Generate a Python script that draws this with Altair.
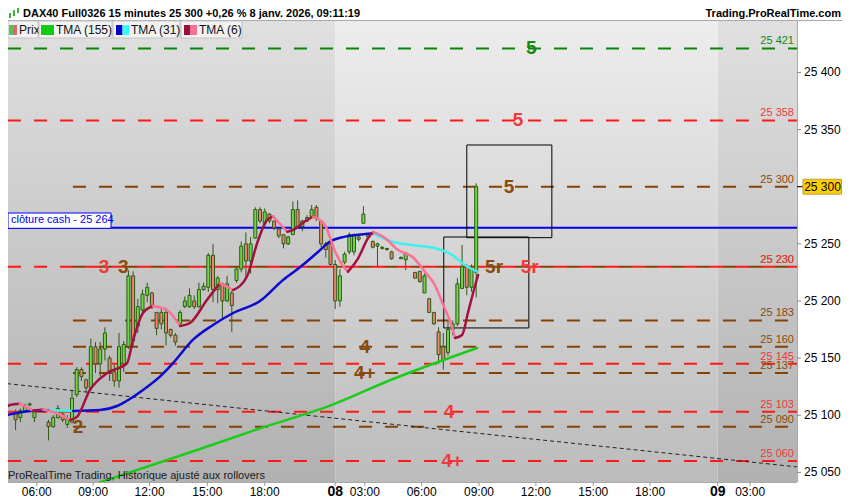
import altair as alt
import pandas as pd

# ---------------- data ----------------
# candles: bar index (15-min slots, overnight gap removed), open / high / low / close
bar_i = [-1, 0, 2, 3, 4, 5, 6, 8, 9, 10, 11, 12, 13, 14, 15, 16, 17, 18, 19, 20,
         21, 22, 23, 24, 25, 26, 27, 28, 29, 30, 31, 32, 33, 34, 35, 36, 37, 38, 39, 40,
         41, 42, 43, 44, 45, 46, 47, 48, 49, 50, 51, 52, 53, 54, 55, 56, 57, 58, 59, 60,
         61, 62, 63, 64, 65, 66, 67, 68, 69, 70, 71, 72, 73, 74, 75, 76, 77, 78, 79, 80,
         81, 82, 84, 85, 87, 88, 89, 90, 91, 92, 93, 94, 95, 96, 97, 98, 99, 100]
bar_open = [25114, 25106, 25102, 25098, 25104, 25109, 25098, 25103, 25094, 25090, 25098, 25101, 25092, 25094, 25118, 25140, 25131, 25124, 25160, 25145,
            25158, 25150, 25138, 25130, 25145, 25160, 25222, 25178, 25192, 25205, 25207, 25190, 25190, 25190, 25175, 25170, 25180, 25195, 25195, 25200,
            25195, 25210, 25212, 25240, 25210, 25215, 25200, 25207, 25218, 25228, 25250, 25235, 25255, 25280, 25268, 25276, 25270, 25263, 25258, 25250,
            25258, 25280, 25265, 25270, 25274, 25282, 25270, 25250, 25250, 25232, 25200, 25234, 25243, 25243, 25256, 25268, 25256, 25252, 25248, 25247,
            25246, 25243, 25238, 25236, 25225, 25226, 25207, 25202, 25190, 25173, 25160, 25155, 25175, 25180, 25211, 25230, 25212, 25225]
bar_high = [25122, 25114, 25105, 25106, 25110, 25111, 25105, 25106, 25096, 25100, 25109, 25103, 25100, 25122, 25142, 25142, 25132, 25167, 25164, 25164,
            25177, 25152, 25144, 25172, 25165, 25227, 25226, 25202, 25210, 25216, 25208, 25190, 25194, 25194, 25176, 25172, 25192, 25204, 25211, 25205,
            25216, 25216, 25242, 25250, 25222, 25216, 25222, 25209, 25230, 25252, 25260, 25256, 25282, 25282, 25281, 25277, 25270, 25263, 25258, 25257,
            25287, 25288, 25271, 25275, 25284, 25284, 25271, 25252, 25253, 25236, 25228, 25243, 25260, 25259, 25257, 25283, 25259, 25253, 25251, 25248,
            25246, 25244, 25239, 25243, 25225, 25226, 25224, 25202, 25190, 25177, 25172, 25182, 25183, 25220, 25249, 25232, 25232, 25303]
bar_low = [25111, 25104, 25087, 25094, 25102, 25108, 25094, 25102, 25078, 25089, 25097, 25094, 25089, 25093, 25116, 25130, 25120, 25122, 25137, 25134,
           25148, 25130, 25125, 25124, 25138, 25158, 25160, 25172, 25190, 25199, 25193, 25170, 25175, 25161, 25168, 25161, 25178, 25194, 25194, 25193,
           25194, 25209, 25208, 25199, 25198, 25185, 25199, 25173, 25216, 25225, 25221, 25224, 25255, 25268, 25264, 25268, 25262, 25255, 25246, 25249,
           25258, 25264, 25261, 25269, 25273, 25270, 25247, 25238, 25231, 25193, 25195, 25232, 25241, 25240, 25252, 25268, 25255, 25246, 25229, 25245,
           25244, 25236, 25237, 25227, 25220, 25216, 25207, 25190, 25179, 25145, 25140, 25152, 25170, 25178, 25211, 25205, 25208, 25203]
bar_close = [25119, 25111, 25096, 25104, 25108, 25110, 25103, 25105, 25090, 25098, 25106, 25096, 25097, 25115, 25140, 25134, 25124, 25160, 25145, 25158,
             25172, 25138, 25130, 25160, 25162, 25222, 25165, 25195, 25206, 25212, 25196, 25176, 25180, 25172, 25170, 25164, 25190, 25200, 25205, 25195,
             25210, 25213, 25240, 25210, 25220, 25200, 25215, 25196, 25228, 25248, 25235, 25250, 25280, 25270, 25278, 25270, 25264, 25257, 25250, 25256,
             25280, 25265, 25270, 25273, 25280, 25272, 25250, 25245, 25232, 25200, 25222, 25241, 25258, 25258, 25254, 25276, 25258, 25247, 25250, 25246,
             25245, 25237, 25237, 25242, 25220, 25217, 25222, 25190, 25180, 25153, 25148, 25175, 25180, 25215, 25230, 25212, 25228, 25300]

# moving averages (bar index, price)
tma6_i = [-1.3, 0.8, 2.9, 5.7, 7.8, 10.8, 13.6, 15.1, 17.8, 21.5, 25.7, 27.0, 29.1, 31.2, 34.2, 37.0, 39.1, 42.7,
          45.5, 48.3, 51.2, 53.4, 55.5, 56.8, 59.8, 61.0, 64.0, 65.3, 67.8, 70.0, 71.5, 72.7, 74.9, 77.0, 78.1,
          80.6, 83.4, 86.4, 89.1, 91.2, 92.7, 94.9, 95.5, 97.0, 98.3, 99.8, 100.4]
tma6_p = [25102.2, 25109.0, 25110.0, 25104.0, 25105.0, 25101.7, 25095.9, 25098.8, 25122.1, 25137.0, 25145.5, 25165.9,
          25189.5, 25195.6, 25192.1, 25178.1, 25180.7, 25200.9, 25215.7, 25209.6, 25221.2, 25250.7, 25270.9, 25273.8,
          25260.6, 25262.1, 25270.9, 25273.8, 25266.5, 25243.1, 25231.5, 25225.6, 25237.6, 25255.1, 25260.4, 25255.1,
          25244.6, 25238.7, 25225.6, 25214.0, 25199.4, 25176.4, 25167.6, 25170.2, 25190.6, 25214.0, 25222.7]
tma31_i = [-1.3, 5.7, 9.3, 12.9, 14.2, 20.0, 23.6, 26.3, 29.1, 32.7, 35.5, 39.7, 44.0, 48.3, 54.0, 58.9, 62.5,
           66.1, 68.9, 72.1, 76.4, 78.1, 82.1, 86.4, 91.2, 94.9, 97.6, 100.2]
tma31_p = [25098.8, 25104.0, 25104.4, 25104.0, 25103.8, 25104.6, 25108.1, 25114.2, 25122.1, 25133.8, 25145.7,
           25165.9, 25179.0, 25189.5, 25200.0, 25218.4, 25229.5, 25242.0, 25251.9, 25256.3, 25258.6, 25259.2,
           25251.9, 25249.0, 25246.4, 25240.2, 25231.5, 25225.6]
tma155_i = [15.7, 40.6, 54.0, 68.9, 82.3, 100.2]
tma155_p = [25035.5, 25069.6, 25088.5, 25108.4, 25131.7, 25158.9]

# horizontal levels
red_levels = [25358, 25230, 25145, 25103, 25060]
brown_levels = [25300, 25230, 25183, 25160, 25137, 25090]
green_levels = [25421]
cash_level = 25264
brown_start = 14.2

# right-edge level labels
rlab_lvl = [25421, 25358, 25300, 25230, 25230, 25183, 25160, 25145, 25137, 25103, 25090, 25060]
rlab_kind = ["g", "r", "b", "b", "r", "b", "b", "r", "b", "r", "b", "r"]

# big level markers
mk_text = ["5", "5", "5", "3", "3", "5r", "5r", "4", "4+", "4", "2", "4+"]
mk_i = [111.7, 108.9, 107.0, 20.8, 24.9, 103.8, 111.4, 76.3, 76.3, 94.2, 15.3, 94.9]
mk_p = [25421, 25358, 25300, 25230, 25230, 25230, 25230, 25160, 25137, 25103, 25090, 25060]
mk_kind = ["g", "r", "b", "r", "b", "b", "r", "b", "b", "r", "b", "r"]

# boxes (bar index range, price range)
box_i1 = [98.0, 93.1]
box_i2 = [116.1, 111.2]
box_p1 = [25336.5, 25256.0]
box_p2 = [25255.4, 25176.4]

# dotted trend line
trend_i = [-1.3, 168.3]
trend_p = [25128.3, 25054.8]

# x axis ticks
tick_i = [6.5, 18.5, 30.5, 42.8, 55.0, 70.0, 76.3, 88.4, 100.6, 112.7, 124.9, 137.0, 151.4, 158.3]
tick_lbl = ["06:00", "09:00", "12:00", "15:00", "18:00", "08", "03:00", "06:00", "09:00", "12:00",
            "15:00", "18:00", "09", "03:00"]
day_breaks = [70.0, 151.4]
y_ticks = [25050, 25100, 25150, 25200, 25250, 25300, 25350, 25400]
last_price = 25300

# ---------------- setup ----------------
FONT = "Liberation Sans"
W, H = 789, 461
X_MIN, X_MAX = 0.38, 168.26
Y_MIN, Y_MAX = 25041.6, 25445.0
xs = alt.Scale(domain=[X_MIN, X_MAX], nice=False, zero=False, padding=0)
ys = alt.Scale(domain=[Y_MIN, Y_MAX], nice=False, zero=False, padding=0)
COL = {"r": "#ff1a1a", "b": "#874200", "g": "#0a850a"}
LAB = {"r": "#f03a3a", "b": "#8a4a0c", "g": "#128a12"}

def X(f):
    return alt.X(f, type="quantitative", scale=xs, axis=None)

def Y(f):
    return alt.Y(f, type="quantitative", scale=ys, axis=None)

def spaced(v):
    return f"{v:,}".replace(",", " ")

one = pd.DataFrame({"a": [0]})

def prect(x1, x2, y1, y2, fill, stroke=None):
    kw = dict(fill=fill)
    if stroke:
        kw.update(stroke=stroke, strokeWidth=1)
    return alt.Chart(one).mark_rect(**kw).encode(
        x=alt.value(x1), x2=alt.value(x2), y=alt.value(y1), y2=alt.value(y2))

def ptext(txt, x, y, size=12, weight="normal", color="#111", align="left"):
    return alt.Chart(one).mark_text(text=txt, font=FONT, fontSize=size, fontWeight=weight,
                                    color=color, align=align, baseline="middle").encode(
        x=alt.value(x), y=alt.value(y))

# ---------------- background bands ----------------
dark_grad = alt.LinearGradient(gradient="linear", x1=0, x2=0, y1=0, y2=1,
                               stops=[alt.GradientStop(color="#e0e0e0", offset=0),
                                      alt.GradientStop(color="#b1b1b1", offset=1)])
light_grad = alt.LinearGradient(gradient="linear", x1=0, x2=0, y1=0, y2=1,
                                stops=[alt.GradientStop(color="#ededed", offset=0),
                                       alt.GradientStop(color="#bcbcbc", offset=1)])
dark_df = pd.DataFrame({"s": [X_MIN, day_breaks[1]], "e": [day_breaks[0], X_MAX]})
light_df = pd.DataFrame({"s": [day_breaks[0]], "e": [day_breaks[1]]})
band_dark = alt.Chart(dark_df).mark_rect(fill=dark_grad).encode(
    x=X("s"), x2="e", y=alt.value(0), y2=alt.value(H))
band_light = alt.Chart(light_df).mark_rect(fill=light_grad).encode(
    x=X("s"), x2="e", y=alt.value(0), y2=alt.value(H))

# ---------------- level lines ----------------
def level_layer(levels, start, color):
    d = pd.DataFrame({"lvl": levels, "s": [start] * len(levels), "e": [X_MAX] * len(levels)})
    return alt.Chart(d).mark_rule(strokeWidth=2, strokeDash=[13, 13], color=color, clip=True).encode(
        x=X("s"), x2="e", y=Y("lvl"))

red_lines = level_layer(red_levels, X_MIN, COL["r"])
brown_lines = level_layer(brown_levels, brown_start, COL["b"])
green_lines = level_layer(green_levels, X_MIN, COL["g"])
cash_line = alt.Chart(pd.DataFrame({"lvl": [cash_level], "s": [X_MIN], "e": [X_MAX]})).mark_rule(
    strokeWidth=2, color="#0000ee").encode(x=X("s"), x2="e", y=Y("lvl"))

trend = alt.Chart(pd.DataFrame({"i": trend_i, "p": trend_p})).mark_line(
    color="#222222", strokeWidth=1, strokeDash=[4, 3], clip=True).encode(x=X("i"), y=Y("p"))

boxes = alt.Chart(pd.DataFrame({"i1": box_i1, "i2": box_i2, "p1": box_p1, "p2": box_p2})).mark_rect(
    fillOpacity=0, stroke="#000000", strokeWidth=1, clip=True).encode(
    x=X("i1"), x2="i2", y=Y("p1"), y2="p2")

# ---------------- candles ----------------
cdf = pd.DataFrame({"i": bar_i, "o": bar_open, "h": bar_high, "l": bar_low, "c": bar_close})
cdf["fc"] = ["#6fd64a" if c >= o else "#f0826f" for o, c in zip(cdf.o, cdf.c)]

wicks = alt.Chart(cdf).mark_rule(color="#2d5a14", strokeWidth=1, clip=True).encode(
    x=X("i"), y=Y("l"), y2="h:Q")
bodies = alt.Chart(cdf).mark_bar(size=3, stroke="#2d5a14", strokeWidth=1, clip=True).encode(
    x=X("i"), y=Y("o"), y2="c", fill=alt.Fill("fc:N", scale=None))

# ---------------- axes (drawn through the scales) ----------------
ytk = pd.DataFrame({"v": y_ticks, "t": [spaced(v) for v in y_ticks]})
y_dom = alt.Chart(one).mark_rule(color="#aaaaaa", strokeWidth=1).encode(
    x=alt.value(W + 0.5), y=alt.value(0), y2=alt.value(H))
y_tk = alt.Chart(ytk).mark_rule(color="#888888", strokeWidth=1).encode(
    x=alt.value(W), x2=alt.value(W + 4), y=Y("v"))
y_lb = alt.Chart(ytk).mark_text(font=FONT, fontSize=12, color="#000000", align="left",
                                baseline="middle").encode(x=alt.value(W + 7), y=Y("v"), text="t:N")

xtk = pd.DataFrame({"i": tick_i, "t": tick_lbl, "day": [v in day_breaks for v in tick_i]})
x_dom = alt.Chart(one).mark_rule(color="#aaaaaa", strokeWidth=1).encode(
    x=alt.value(0), x2=alt.value(W), y=alt.value(H + 0.5))
x_tk = alt.Chart(xtk).mark_rule(color="#999999", strokeWidth=1).encode(
    x=X("i"), y=alt.value(H), y2=alt.value(H + 4))
x_lb = alt.Chart(xtk[~xtk.day]).mark_text(font=FONT, fontSize=12, color="#000000", align="center",
                                          baseline="middle").encode(
    x=X("i"), y=alt.value(H + 10), text="t:N")
x_day = alt.Chart(xtk[xtk.day]).mark_text(font=FONT, fontSize=14, fontWeight="bold", color="#000000",
                                          align="center", baseline="middle").encode(
    x=X("i"), y=alt.value(H + 10), text="t:N")

# ---------------- moving averages ----------------
def runs_df(xv, pv, up_col, down_col):
    rows, run, prev = [], -1, None
    for k in range(len(xv) - 1):
        d = up_col if pv[k + 1] >= pv[k] else down_col
        if d != prev:
            run += 1
            rows.append({"run": run, "col": d, "i": xv[k], "p": pv[k]})
        rows.append({"run": run, "col": d, "i": xv[k + 1], "p": pv[k + 1]})
        prev = d
    return pd.DataFrame(rows)

def ma_layer(df, width=2.5):
    return alt.Chart(df).mark_line(strokeWidth=width, interpolate="monotone", clip=True,
                                   strokeCap="round").encode(
        x=X("i"), y=Y("p"), color=alt.Color("col:N", scale=None), detail="run:N")

ma155 = ma_layer(runs_df(tma155_i, tma155_p, "#1ccc1c", "#1ccc1c"))
ma31 = ma_layer(runs_df(tma31_i, tma31_p, "#0a0ad0", "#40f0f0"))
ma6 = ma_layer(runs_df(tma6_i, tma6_p, "#a3123f", "#ff6f95"))

# ---------------- labels ----------------
rl = pd.DataFrame({"lvl": rlab_lvl, "txt": [spaced(v) for v in rlab_lvl],
                   "col": [LAB[k] for k in rlab_kind]})
right_labels = alt.Chart(rl).mark_text(font=FONT, fontSize=11, align="right", baseline="bottom",
                                       dy=-2).encode(
    x=alt.value(786), y=Y("lvl"), text="txt:N", color=alt.Color("col:N", scale=None))

mk = pd.DataFrame({"i": mk_i, "p": mk_p, "t": mk_text, "col": [LAB[k] for k in mk_kind]})
markers = alt.Chart(mk).mark_text(font=FONT, fontSize=19, fontWeight="bold", align="center",
                                  baseline="middle").encode(
    x=X("i"), y=Y("p"), text="t:N", color=alt.Color("col:N", scale=None))

cash_box = alt.Chart(pd.DataFrame({"p1": [25277.0], "p2": [25263.6]})).mark_rect(
    fill="#ffffff", stroke="#0000ff", strokeWidth=1).encode(
    x=alt.value(0), x2=alt.value(103), y=Y("p1"), y2="p2")
cash_text = alt.Chart(pd.DataFrame({"p": [25270.5], "t": [f"clôture cash -  {spaced(cash_level)}"]})).mark_text(
    font=FONT, fontSize=11, color="#0000ee", align="left", baseline="middle").encode(
    x=alt.value(3), y=Y("p"), text="t:N")

tag_box = alt.Chart(pd.DataFrame({"p1": [last_price + 6.5], "p2": [last_price - 6.5]})).mark_rect(
    fill="#ffcc00", stroke="#b8a040", strokeWidth=1).encode(
    x=alt.value(795), x2=alt.value(833.5), y=Y("p1"), y2="p2")
tag_text = alt.Chart(pd.DataFrame({"p": [last_price], "t": [spaced(last_price)]})).mark_text(
    font=FONT, fontSize=12, color="#000000", align="center", baseline="middle").encode(
    x=alt.value(814.5), y=Y("p"), text="t:N")
tag_tick = alt.Chart(pd.DataFrame({"p": [last_price]})).mark_rule(color="#000000", strokeWidth=1).encode(
    x=alt.value(W), x2=alt.value(795), y=Y("p"))

# ---------------- header and legend ----------------
sep = alt.Chart(one).mark_rule(color="#a8a8a8", strokeWidth=1).encode(
    x=alt.value(0), x2=alt.value(834), y=alt.value(-0.5))
icon = [
    prect(1, 3, -8, -3, "#3cb43c"), prect(5, 7, -11, -5, "#3cb43c"), prect(9, 11, -14, -8, "#3cb43c"),
]
title = ptext("DAX40 Full0326 15 minutes 25 300 +0,26 % 8 janv. 2026, 09:11:19", 15, -7,
              size=11, weight="bold", color="#000000")
site = ptext("Trading.ProRealTime.com", 833, -7, size=11, weight="bold", color="#000000", align="right")

legend = [
    prect(0, 30, 0, 17, "#f2f2f2", "#c4c4c4"),
    prect(1, 5, 4, 14, "#55c455"), prect(5, 9, 4, 14, "#e06868"),
    ptext("Prix", 11, 8.5),
    prect(31, 104, 0, 17, "#f2f2f2", "#c4c4c4"),
    prect(33, 46, 4, 14, "#11cc11"),
    ptext("TMA (155)", 48, 8.5),
    prect(105, 172, 0, 17, "#f2f2f2", "#c4c4c4"),
    prect(108, 114.5, 4, 14, "#0000cc"), prect(114.5, 121, 4, 14, "#33ffff"),
    ptext("TMA (31)", 123, 8.5),
    prect(173, 234, 0, 17, "#f2f2f2", "#c4c4c4"),
    prect(176, 182.5, 4, 14, "#99103a"), prect(182.5, 189, 4, 14, "#ff6f95"),
    ptext("TMA (6)", 191, 8.5),
]
footer = ptext("ProRealTime Trading, Historique ajusté aux rollovers", 0, 455, size=11, color="#1a1a1a")

chart = alt.layer(
    band_dark, band_light,
    wicks,
    red_lines, brown_lines, green_lines, cash_line, trend, boxes,
    bodies,
    ma155, ma31, ma6,
    right_labels, markers, cash_box, cash_text,
    y_dom, y_tk, y_lb, x_dom, x_tk, x_lb, x_day,
    tag_tick, tag_box, tag_text,
    sep, *icon, title, site, *legend, footer,
).properties(
    width=W, height=H,
    padding={"left": 0, "top": 13, "right": 45, "bottom": 16},
    autosize=alt.AutoSizeParams(type="none"),
    background="#ffffff",
).configure_view(strokeWidth=0)

chart.save("out.html", embed_options={"renderer": "svg", "actions": False})
